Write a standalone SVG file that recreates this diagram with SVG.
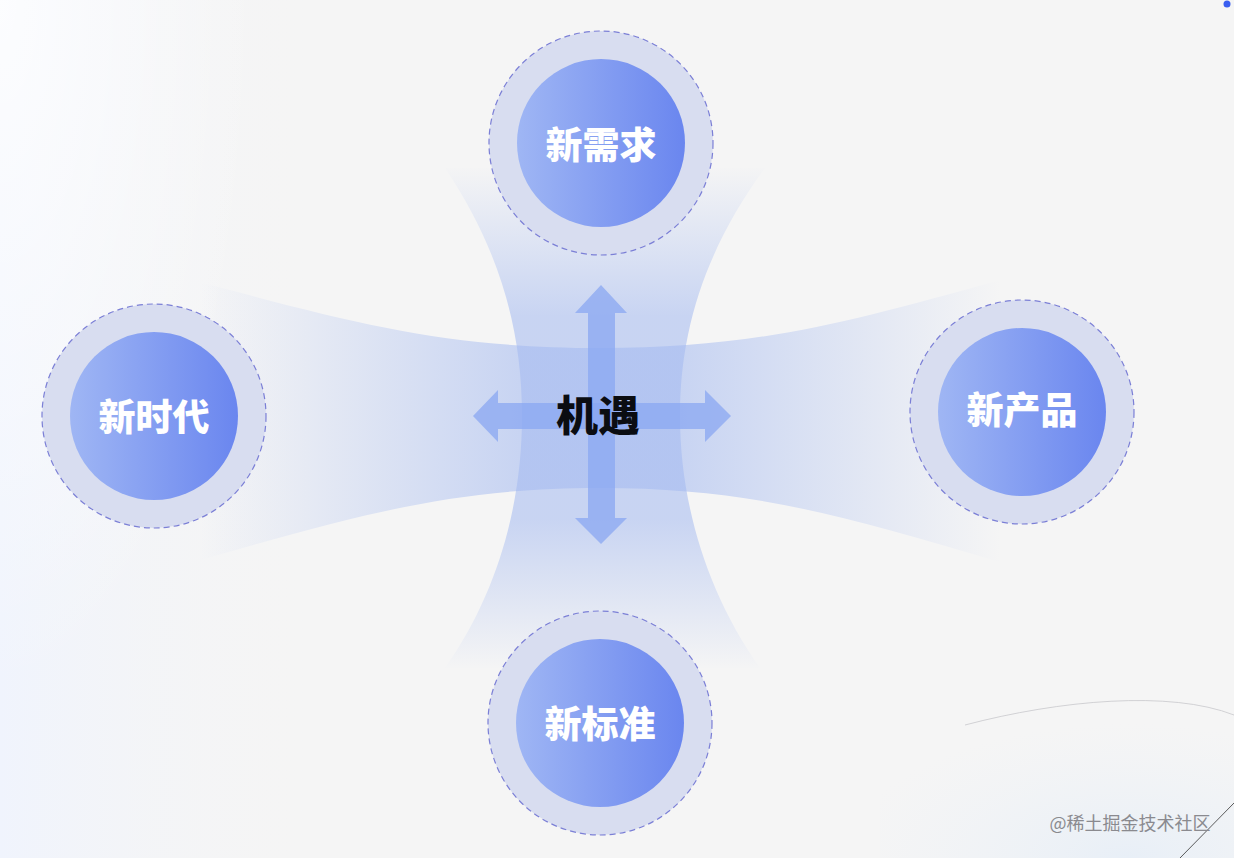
<svg xmlns="http://www.w3.org/2000/svg" width="1234" height="858" viewBox="0 0 1234 858">
<defs>
<style>
.outer{fill:#d8ddf0;stroke:#7b7fd6;stroke-width:1.2;stroke-dasharray:6 4}
.inner{fill:url(#ig)}
.lbl{font-family:"Noto Sans CJK SC","Noto Sans",sans-serif;font-weight:900;font-size:37px;fill:#ffffff;text-anchor:middle;dominant-baseline:central}
.arrow{fill:#8aa7f2;opacity:0.75}
</style>
<linearGradient id="bgL" x1="0" y1="0" x2="1" y2="0">
<stop offset="0" stop-color="#f0f4fd"/>
<stop offset="1" stop-color="#f5f5f5" stop-opacity="0"/>
</linearGradient>
<radialGradient id="bgT" cx="0" cy="0" r="1" gradientUnits="objectBoundingBox">
<stop offset="0" stop-color="#ffffff"/>
<stop offset="1" stop-color="#ffffff" stop-opacity="0"/>
</radialGradient>
<linearGradient id="ig" x1="0" y1="0" x2="1" y2="0">
<stop offset="0" stop-color="#9fb6f4"/>
<stop offset="1" stop-color="#6a86ef"/>
</linearGradient>
<linearGradient id="hb" x1="200" y1="0" x2="1000" y2="0" gradientUnits="userSpaceOnUse">
<stop offset="0" stop-color="#a3b9f0" stop-opacity="0"/>
<stop offset="0.4" stop-color="#a3b9f0" stop-opacity="0.55"/>
<stop offset="0.6" stop-color="#a3b9f0" stop-opacity="0.55"/>
<stop offset="1" stop-color="#a3b9f0" stop-opacity="0"/>
</linearGradient>
<linearGradient id="vb" x1="0" y1="165" x2="0" y2="670" gradientUnits="userSpaceOnUse">
<stop offset="0" stop-color="#a3b9f0" stop-opacity="0"/>
<stop offset="0.3" stop-color="#a3b9f0" stop-opacity="0.55"/>
<stop offset="0.7" stop-color="#a3b9f0" stop-opacity="0.55"/>
<stop offset="1" stop-color="#a3b9f0" stop-opacity="0"/>
</linearGradient>
<radialGradient id="br" cx="0.7" cy="1" r="0.8">
<stop offset="0" stop-color="#e8eff7"/>
<stop offset="1" stop-color="#eef2f7" stop-opacity="0"/>
</radialGradient>
</defs>
<rect width="1234" height="858" fill="#f5f5f5"/>
<rect width="320" height="858" fill="url(#bgL)"/>
<rect width="260" height="700" fill="url(#bgT)" opacity="0.8"/>
<rect x="880" y="690" width="354" height="168" fill="url(#br)"/>
<path d="M965,725 C1060,700 1170,690 1234,715" fill="none" stroke="#c8c8cc" stroke-width="0.8"/>
<line x1="1234" y1="803" x2="1180" y2="858" stroke="#333" stroke-width="0.8"/>
<circle cx="1227" cy="4" r="3.5" fill="#3a5ef0"/>

<g id="connectors">
<path d="M200,282 C360,325 450,348 600,348 C750,348 840,325 1000,280 L1000,562 C840,515 750,488 600,488 C450,488 360,515 200,560 Z" fill="url(#hb)"/>
<path d="M445,168 C500,250 522,330 522,416 C522,500 500,590 445,668 L760,668 C705,590 680,500 680,416 C680,330 705,250 765,168 Z" fill="url(#vb)"/>
<path class="arrow" d="M601,285 L627,313 L615,313 L615,518 L627,518 L601,544 L575,518 L588,518 L588,313 L575,313 Z"/>
<path class="arrow" d="M473,416 L498,390 L498,403 L705,403 L705,390 L731,416 L705,442 L705,429 L498,429 L498,442 Z"/>
</g>

<g id="center">
<text x="598" y="412" font-family="'Noto Sans CJK SC',sans-serif" font-weight="900" font-size="42" fill="#0b0d12" text-anchor="middle" dominant-baseline="central">机遇</text>
</g>

<g id="node-top">
<circle class="outer" cx="601" cy="143" r="112"/>
<circle class="inner" cx="601" cy="143" r="84"/>
<text class="lbl" x="601" y="143">新需求</text>
</g>
<g id="node-left">
<circle class="outer" cx="154" cy="416" r="112"/>
<circle class="inner" cx="154" cy="416" r="84"/>
<text class="lbl" x="154" y="415">新时代</text>
</g>
<g id="node-right">
<circle class="outer" cx="1022" cy="412" r="112"/>
<circle class="inner" cx="1022" cy="412" r="84"/>
<text class="lbl" x="1022" y="408">新产品</text>
</g>
<g id="node-bottom">
<circle class="outer" cx="600" cy="723" r="112"/>
<circle class="inner" cx="600" cy="723" r="84"/>
<text class="lbl" x="600" y="722">新标准</text>
</g>

<text x="1130" y="822" font-family="'Noto Sans CJK SC',sans-serif" font-size="18" fill="#8a8a8f" text-anchor="middle" dominant-baseline="central">@稀土掘金技术社区</text>
</svg>
